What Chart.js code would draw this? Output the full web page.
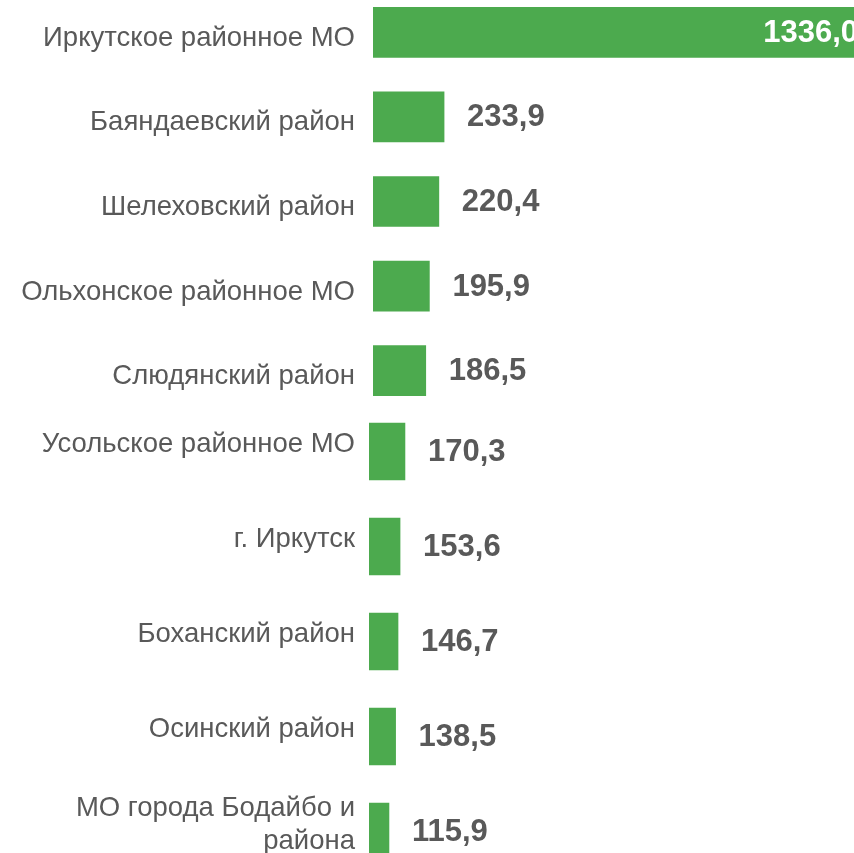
<!DOCTYPE html>
<html>
<head>
<meta charset="utf-8">
<script src="https://cdn.jsdelivr.net/npm/chart.js@4/dist/chart.umd.min.js"></script>
<style>
    html, body { margin: 0; padding: 0; background: #fff; overflow: hidden; }
    #wrap { position: relative; width: 854px; height: 853px; overflow: hidden; }
    .box { position: absolute; left: 0; width: 870px; }
    #box1 { top: -10px; height: 423px; }
    #box2 { top: 404px; height: 475px; }
</style>
</head>
<body>
<div id="wrap">
    <div class="box" id="box1"><canvas id="chartTop"></canvas></div>
    <div class="box" id="box2"><canvas id="chartBottom"></canvas></div>
</div>
<script>

// Data
var topLabels = ["Иркутское районное МО", "Баяндаевский район", "Шелеховский район",
    "Ольхонское районное МО", "Слюдянский район"];
var topValues = [1336.0, 233.9, 220.4, 195.9, 186.5];

var bottomLabels = ["Усольское районное МО", "г. Иркутск", "Боханский район",
    "Осинский район", ["МО города Бодайбо и", "района"]];
var bottomValues = [170.3, 153.6, 146.7, 138.5, 115.9];

var barColor = "#4caa4e";
var textColor = "#595959";
var labelFont = "'Liberation Sans', Arial, sans-serif";

// Value labels next to (or inside) the bars
var valueLabels = {
    id: 'valueLabels',
    afterDatasetsDraw: function (chart) {
        var ctx = chart.ctx;
        var xScale = chart.scales.x;
        var yScale = chart.scales.y;
        var values = chart.data.datasets[0].data;
        ctx.save();
        ctx.font = "bold 31px " + labelFont;
        ctx.textBaseline = "middle";
        values.forEach(function (v, i) {
            var text = v.toFixed(1).replace(".", ",");
            var xEnd = xScale.getPixelForValue(v);
            var y = yScale.getPixelForValue(i) + 1;
            if (xEnd > chart.chartArea.right - 150) {
                ctx.fillStyle = "#ffffff";
                ctx.textAlign = "right";
                ctx.fillText(text, xEnd - 12, y);
            } else {
                ctx.fillStyle = textColor;
                ctx.textAlign = "left";
                ctx.fillText(text, xEnd + 23, y);
            }
        });
        ctx.restore();
    }
};

function makeChart(id, labels, values, opts) {
    var ctx = document.getElementById(id).getContext("2d");
    return new Chart(ctx, {
        type: 'bar',
        data: {
            labels: labels,
            datasets: [{
                data: values,
                backgroundColor: barColor,
                borderWidth: 0,
                barThickness: opts.thickness
            }]
        },
        options: {
            indexAxis: 'y',
            responsive: true,
            maintainAspectRatio: false,
            animation: false,
            layout: { padding: 0 },
            plugins: {
                legend: { display: false },
                tooltip: { enabled: false }
            },
            scales: {
                x: {
                    display: false,
                    min: opts.min,
                    max: opts.max
                },
                y: {
                    grid: { display: false, drawTicks: false },
                    border: { display: false },
                    ticks: {
                        color: textColor,
                        padding: opts.pad,
                        labelOffset: opts.labelOffset,
                        font: { family: labelFont, size: 27.5, lineHeight: 1.2 }
                    },
                    afterFit: function (scale) {
                        // fixed axis width, no extra room for the first/last label
                        scale.width = opts.axisWidth;
                        scale.paddingTop = 0;
                        scale.paddingBottom = 0;
                    }
                }
            }
        },
        plugins: [valueLabels]
    });
}

makeChart("chartTop", topLabels, topValues,
    { min: 50, max: 1336, thickness: 50, pad: 18, labelOffset: 6, axisWidth: 373 });

makeChart("chartBottom", bottomLabels, bottomValues,
    { min: 48, max: 1752, thickness: 57, pad: 14, labelOffset: -7, axisWidth: 369 });

</script>
</body>
</html>
